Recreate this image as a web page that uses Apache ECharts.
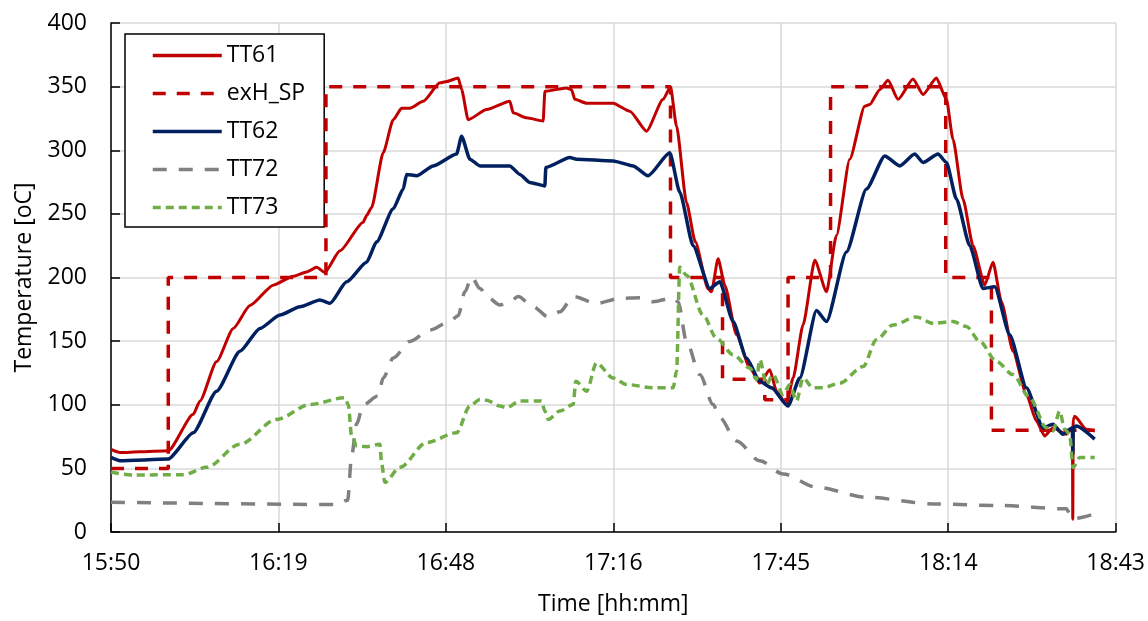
<!DOCTYPE html>
<html>
<head>
<meta charset="utf-8">
<script src="https://cdn.jsdelivr.net/npm/echarts@6/dist/echarts.min.js"></script>
<style>
html,body{margin:0;padding:0;background:#fff;}
#chart{width:1148px;height:621px;}
</style>
</head>
<body>
<div id="chart"></div>
<script>
// Time axis: minutes elapsed since 15:50:24 (START, in minutes after midnight)
const START = 950.4;
const xTicks = [0, 28.8, 57.6, 86.4, 115.2, 144.0, 172.8];
const yTicks = [0, 50, 100, 150, 200, 250, 300, 350, 400];
const seriesNames = ['TT61', 'exH_SP', 'TT62', 'TT72', 'TT73'];

const tt61_t = [0, 1.55, 5, 9.85, 14.15, 15.3, 18.17, 21.03, 23.9, 27.9, 31.35, 33.65, 35.37, 36.79, 39.37, 43.38, 43.96, 44.82, 46.82, 48.54, 49.98, 51.41, 53.7, 56.57, 57.72, 59.72, 60.3, 61.43, 64.6, 68.6, 69.17, 71.48, 74.33, 74.62, 78.35, 79.21, 79.78, 81.79, 86.37, 89.24, 92.11, 94.96, 96.23, 97.27, 98.98, 100.5, 102.7, 103.28, 104.42, 105.57, 107.58, 109.87, 111.59, 113.31, 114.46, 116.18, 117.32, 119.03, 121.05, 123.06, 124.77, 127.06, 129.64, 130.5, 132.22, 133.65, 135.37, 137.95, 139.67, 141.97, 143.69, 144.82, 146.54, 148.26, 150.28, 151.7, 153.15, 155.14, 157.45, 159.16, 160.59, 162.02, 164.32, 165.36, 165.42, 165.5, 165.75, 167.76, 169.19];
const tt61_v = [65, 62.5, 63, 63.8, 92.5, 103, 134, 160, 178, 194, 201, 204.4, 208, 204, 221, 243.5, 248.7, 255, 298, 324, 333, 333, 338.5, 353, 354, 356.8, 347.7, 324, 332, 338.5, 329.4, 325.5, 323, 346.3, 349, 347.6, 340, 337, 337, 330.7, 315, 340, 349.8, 319, 259, 228, 191, 188.8, 214.8, 194, 155, 129, 117, 127.6, 110.7, 100, 121, 162.7, 213.5, 188.8, 233, 293, 334.6, 336, 347.6, 355, 340, 356, 343.8, 356.8, 340, 308.6, 261.7, 225, 194, 212, 181, 142, 108, 87.3, 75.5, 82, 76.8, 82, 10, 88, 91, 80.7, 79.4];

const sp_t = [0, 9.85, 36.97, 96.23, 105.18, 112.45, 116.45, 123.76, 143.57, 151.43, 169.19];
const sp_v = [50, 200, 350, 200, 120, 104, 200, 350, 200, 80, 80];

const tt62_t = [0, 1.55, 9.85, 14.15, 18.17, 22.18, 25.62, 29.06, 32.5, 35.94, 37.66, 40.53, 43.96, 45.68, 48.54, 50.26, 50.84, 52.56, 55.42, 59.44, 60.3, 61.73, 63.45, 68.6, 70.32, 72.04, 74.62, 74.79, 78.92, 80.07, 86.37, 89.8, 92.38, 96.11, 97.83, 100.12, 102.99, 104.71, 107.0, 109.3, 111.59, 113.6, 116.45, 118.47, 121.34, 123.06, 126.49, 129.93, 133.08, 135.66, 138.24, 139.67, 142.25, 143.69, 145.41, 147.7, 149.98, 152.0, 154.57, 157.45, 160.3, 162.02, 163.74, 165.36, 165.42, 165.5, 166.04, 169.19];
const tt62_v = [58.6, 56, 57.3, 78, 110.7, 142, 160, 170.5, 177, 182.3, 179.7, 196.6, 212, 228, 254, 269.5, 281, 280, 287.7, 297, 311, 293, 287.7, 287.7, 281, 274.7, 272, 286.5, 294.3, 293, 291.6, 287.7, 280, 298, 267, 225, 191.4, 196.6, 165.4, 136.7, 118.5, 113.3, 99, 121, 174, 165.4, 220, 269.5, 295.5, 287.7, 297, 290.4, 297, 290.4, 261.7, 225, 191.4, 192.7, 155, 113.3, 82, 84.6, 76.8, 82, 61, 82, 83.3, 73];

const tt72_t = [0, 38.8, 40.7, 41.39, 42.25, 43.38, 45.96, 46.82, 48.54, 51.41, 54.85, 58.29, 59.72, 60.87, 62.02, 63.45, 65.0, 66.88, 68.6, 70.03, 72.61, 75.19, 77.2, 79.49, 83.51, 87.52, 90.96, 93.24, 96.68, 97.54, 98.98, 101.27, 103.56, 104.71, 107.58, 111.59, 115.6, 121.34, 129.93, 141.39, 152.86, 164.32, 165.18, 165.46, 169.19];
const tt72_v = [23.4, 21.6, 25, 60, 85, 100, 107, 121, 136.7, 149.8, 158.8, 165.4, 170, 188.8, 200.5, 191.4, 183.6, 178.4, 181, 185, 177, 169, 173, 185, 179.7, 183.6, 184, 181, 184, 181, 149.8, 123.7, 100.2, 89.8, 71.6, 56, 45.6, 35.2, 27.3, 22.1, 20.8, 18.2, 11.7, 10.4, 14.3];

const tt73_t = [0, 3.83, 12.43, 16.45, 22.18, 28.49, 34.22, 40.23, 40.8, 41.39, 42.25, 43.96, 46.25, 46.54, 47.11, 49.69, 54.28, 59.44, 61.73, 63.45, 64.6, 66.88, 68.04, 70.32, 74.05, 74.62, 75.19, 77.2, 79.49, 79.95, 81.79, 83.51, 86.37, 88.67, 93.24, 96.68, 97.27, 97.83, 98.98, 101.84, 104.14, 107.0, 109.87, 111.02, 111.59, 112.74, 113.87, 115.6, 116.75, 117.9, 119.03, 120.75, 122.47, 125.34, 129.35, 131.65, 134.51, 138.53, 141.39, 144.82, 147.13, 149.42, 152.29, 155.14, 158.01, 160.88, 162.02, 163.17, 164.03, 164.89, 165.46, 166.61, 169.19];
const tt73_v = [46.9, 44.8, 45, 50.8, 69, 88.5, 100.2, 105.5, 100.2, 75.5, 67.7, 67, 69, 53.4, 39, 50.8, 70.3, 78, 99, 104.2, 103.5, 99, 97.7, 103, 103, 95, 88.5, 95, 100.2, 118.5, 110.7, 132.8, 121, 115.9, 113.3, 113.3, 126.3, 208, 201.8, 170.5, 152.3, 139.3, 128.9, 119.8, 135.4, 115.9, 123.7, 108, 115.9, 103, 121, 113.3, 113.3, 117, 130, 151, 162.7, 169, 164, 165.4, 161.5, 149.8, 134, 123.7, 105.5, 82, 79.4, 95, 80.7, 76.8, 50.8, 58.6, 58.6];

function pairs(t, v) { return t.map((x, i) => [x, v[i]]); }
function fmtTime(m) {
  const tot = Math.floor(START + m + 1e-6);
  const h = Math.floor(tot / 60), mm = tot % 60;
  return h + ':' + (mm < 10 ? '0' : '') + mm;
}

const FONT = '"Open Sans"';
const chart = echarts.init(document.getElementById('chart'), null, {renderer: 'canvas'});
const lineCommon = {type: 'line', showSymbol: false, symbol: 'none', animation: false};

chart.setOption({
  backgroundColor: '#fff',
  animation: false,
  grid: {left: 111, right: 32, top: 23, bottom: 86, containLabel: false},
  legend: {
    orient: 'vertical', left: 125, top: 34,
    data: seriesNames,
    itemWidth: 69, itemHeight: 22, itemGap: 15,
    padding: [10, 19, 8, 26],
    borderColor: '#000', borderWidth: 1.5, backgroundColor: '#fff',
    itemStyle: {opacity: 0},
    lineStyle: {width: 3.5},
    textStyle: {fontFamily: FONT, fontSize: 23, color: '#000'}
  },
  xAxis: {
    type: 'value', min: xTicks[0], max: xTicks[xTicks.length - 1], interval: 28.8,
    name: 'Time [hh:mm]', nameLocation: 'middle', nameGap: 61,
    nameTextStyle: {fontFamily: FONT, fontSize: 23, color: '#000'},
    axisLine: {lineStyle: {color: '#000', width: 1.5}},
    axisTick: {inside: true, length: 9, lineStyle: {color: '#000', width: 1.5}},
    axisLabel: {fontFamily: FONT, fontSize: 23, color: '#000', margin: 20, formatter: fmtTime},
    splitLine: {show: true, lineStyle: {color: '#D9D9D9', width: 1.5}}
  },
  yAxis: {
    type: 'value', min: yTicks[0], max: yTicks[yTicks.length - 1], interval: 50,
    name: 'Temperature [oC]', nameLocation: 'middle', nameGap: 75, nameRotate: 90,
    nameTextStyle: {fontFamily: FONT, fontSize: 23, color: '#000'},
    axisLine: {show: true, lineStyle: {color: '#000', width: 1.5}},
    axisTick: {show: true, inside: true, length: 9, lineStyle: {color: '#000', width: 1.5}},
    axisLabel: {fontFamily: FONT, fontSize: 23, color: '#000', margin: 24},
    splitLine: {show: true, lineStyle: {color: '#D9D9D9', width: 1.5}}
  },
  series: [
    Object.assign({}, lineCommon, {name: 'TT61', data: pairs(tt61_t, tt61_v), smooth: 0.2, smoothMonotone: 'x', z: 3,
      lineStyle: {color: '#C00000', width: 3}, itemStyle: {color: '#C00000'}}),
    Object.assign({}, lineCommon, {name: 'exH_SP', data: pairs(sp_t, sp_v), step: 'end', z: 4,
      lineStyle: {color: '#C00000', width: 3.5, type: [13, 11]}, itemStyle: {color: '#C00000'}}),
    Object.assign({}, lineCommon, {name: 'TT62', data: pairs(tt62_t, tt62_v), smooth: 0.2, smoothMonotone: 'x', z: 5,
      lineStyle: {color: '#002060', width: 3.5}, itemStyle: {color: '#002060'}}),
    Object.assign({}, lineCommon, {name: 'TT72', data: pairs(tt72_t, tt72_v), smooth: 0.3, smoothMonotone: 'x', z: 2,
      lineStyle: {color: '#808080', width: 3.5, type: [14, 12]}, itemStyle: {color: '#808080'}}),
    Object.assign({}, lineCommon, {name: 'TT73', data: pairs(tt73_t, tt73_v), smooth: 0.3, smoothMonotone: 'x', z: 6,
      lineStyle: {color: '#70AD47', width: 3.5, type: [8, 5]}, itemStyle: {color: '#70AD47'}})
  ]
});
</script>
</body>
</html>
